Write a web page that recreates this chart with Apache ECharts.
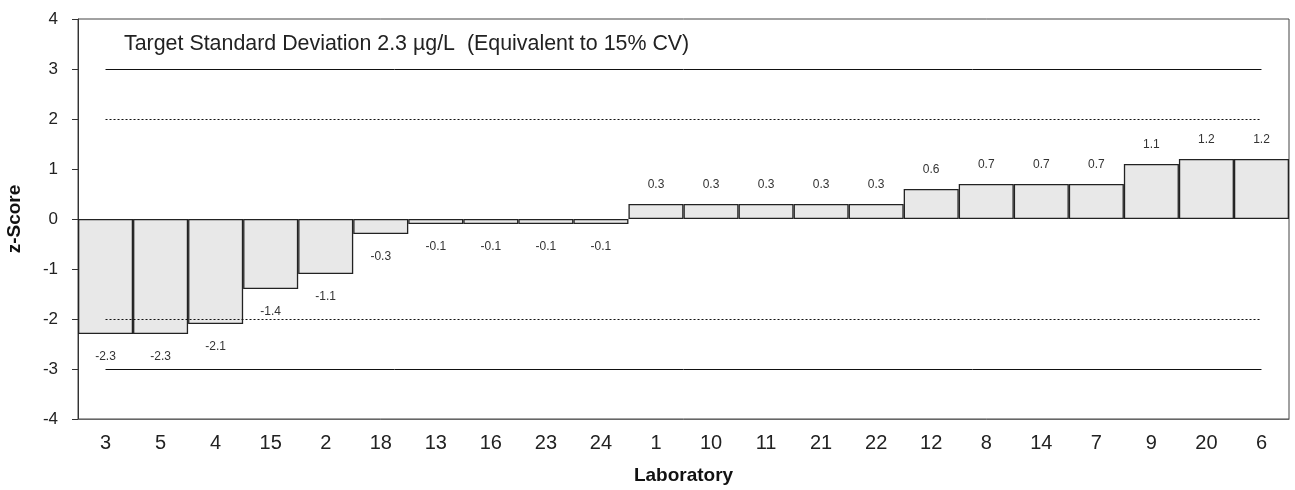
<!DOCTYPE html>
<html>
<head>
<meta charset="utf-8">
<script src="https://cdn.jsdelivr.net/npm/echarts@6/dist/echarts.min.js"></script>
<style>
  html, body { margin: 0; padding: 0; background: #fff; }
  #chart { width: 1295px; height: 490px; }
</style>
</head>
<body>
<div id="chart"></div>
<script>
// Laboratories, ordered by z-score
const laboratories = ['3', '5', '4', '15', '2', '18', '13', '16', '23', '24', '1', '10', '11', '21', '22', '12', '8', '14', '7', '9', '20', '6'];
const zScores = [-2.3, -2.3, -2.1, -1.4, -1.1, -0.3, -0.1, -0.1, -0.1, -0.1, 0.3, 0.3, 0.3, 0.3, 0.3, 0.6, 0.7, 0.7, 0.7, 1.1, 1.2, 1.2];
const yTicks = [-4, -3, -2, -1, 0, 1, 2, 3, 4];
const actionLimits = [3, -3];   // solid lines
const warningLimits = [2, -2];  // dotted lines
const noteText = 'Target Standard Deviation 2.3 \u00b5g/L  (Equivalent to 15% CV)';

const font = 'Liberation Sans, Arial, sans-serif';

function limitLine(v, type) {
  return [
    { coord: [0, v], lineStyle: { type: type, color: '#111', width: 1 } },
    { coord: [laboratories.length - 1, v] }
  ];
}

// value labels sit above positive bars and below negative ones
const barData = zScores.map(v => ({
  value: v,
  label: v < 0 ? { position: 'bottom', distance: 17 } : { position: 'top', distance: 13 }
}));

const chart = echarts.init(document.getElementById('chart'), null, { renderer: 'canvas' });
chart.setOption({
  animation: false,
  backgroundColor: '#fff',
  grid: {
    left: 78, right: 6, top: 19, bottom: 71,
    outerBoundsMode: 'none',
    containLabel: false,
    show: true, borderColor: '#444', borderWidth: 1, backgroundColor: 'transparent'
  },
  graphic: [{
    type: 'text', left: 124, top: 34,
    style: { text: noteText, font: '21.4px ' + font, fill: '#222' }
  }],
  xAxis: {
    type: 'category',
    data: laboratories,
    name: 'Laboratory',
    nameLocation: 'middle',
    nameGap: 47,
    nameTextStyle: { fontFamily: font, fontSize: 19, fontWeight: 'bold', color: '#111' },
    axisLine: { onZero: false, lineStyle: { color: '#666' } },
    axisTick: { show: false },
    axisLabel: { fontFamily: font, fontSize: 20, color: '#222', margin: 14, interval: 0 },
    splitLine: { show: false }
  },
  yAxis: {
    type: 'value',
    min: yTicks[0],
    max: yTicks[yTicks.length - 1],
    interval: 1,
    name: 'z-Score',
    nameLocation: 'middle',
    nameGap: 54,
    nameTextStyle: { fontFamily: font, fontSize: 19, fontWeight: 'bold', color: '#111' },
    axisLine: { show: true, lineStyle: { color: '#333' } },
    axisTick: { show: true, length: 6, lineStyle: { color: '#333' } },
    axisLabel: { fontFamily: font, fontSize: 17, color: '#222', margin: 20 },
    splitLine: { show: false }
  },
  series: [{
    type: 'bar',
    data: barData,
    barCategoryGap: 0,
    itemStyle: { color: '#e8e8e8', borderColor: '#222', borderWidth: 1.3 },
    label: {
      show: true,
      fontFamily: font,
      fontSize: 12,
      color: '#333',
      formatter: p => p.value.toFixed(1)
    },
    markLine: {
      silent: true,
      symbol: 'none',
      label: { show: false },
      data: [
        ...actionLimits.map(v => limitLine(v, 'solid')),
        ...warningLimits.map(v => limitLine(v, [2, 2]))
      ]
    }
  }]
});
</script>
</body>
</html>
